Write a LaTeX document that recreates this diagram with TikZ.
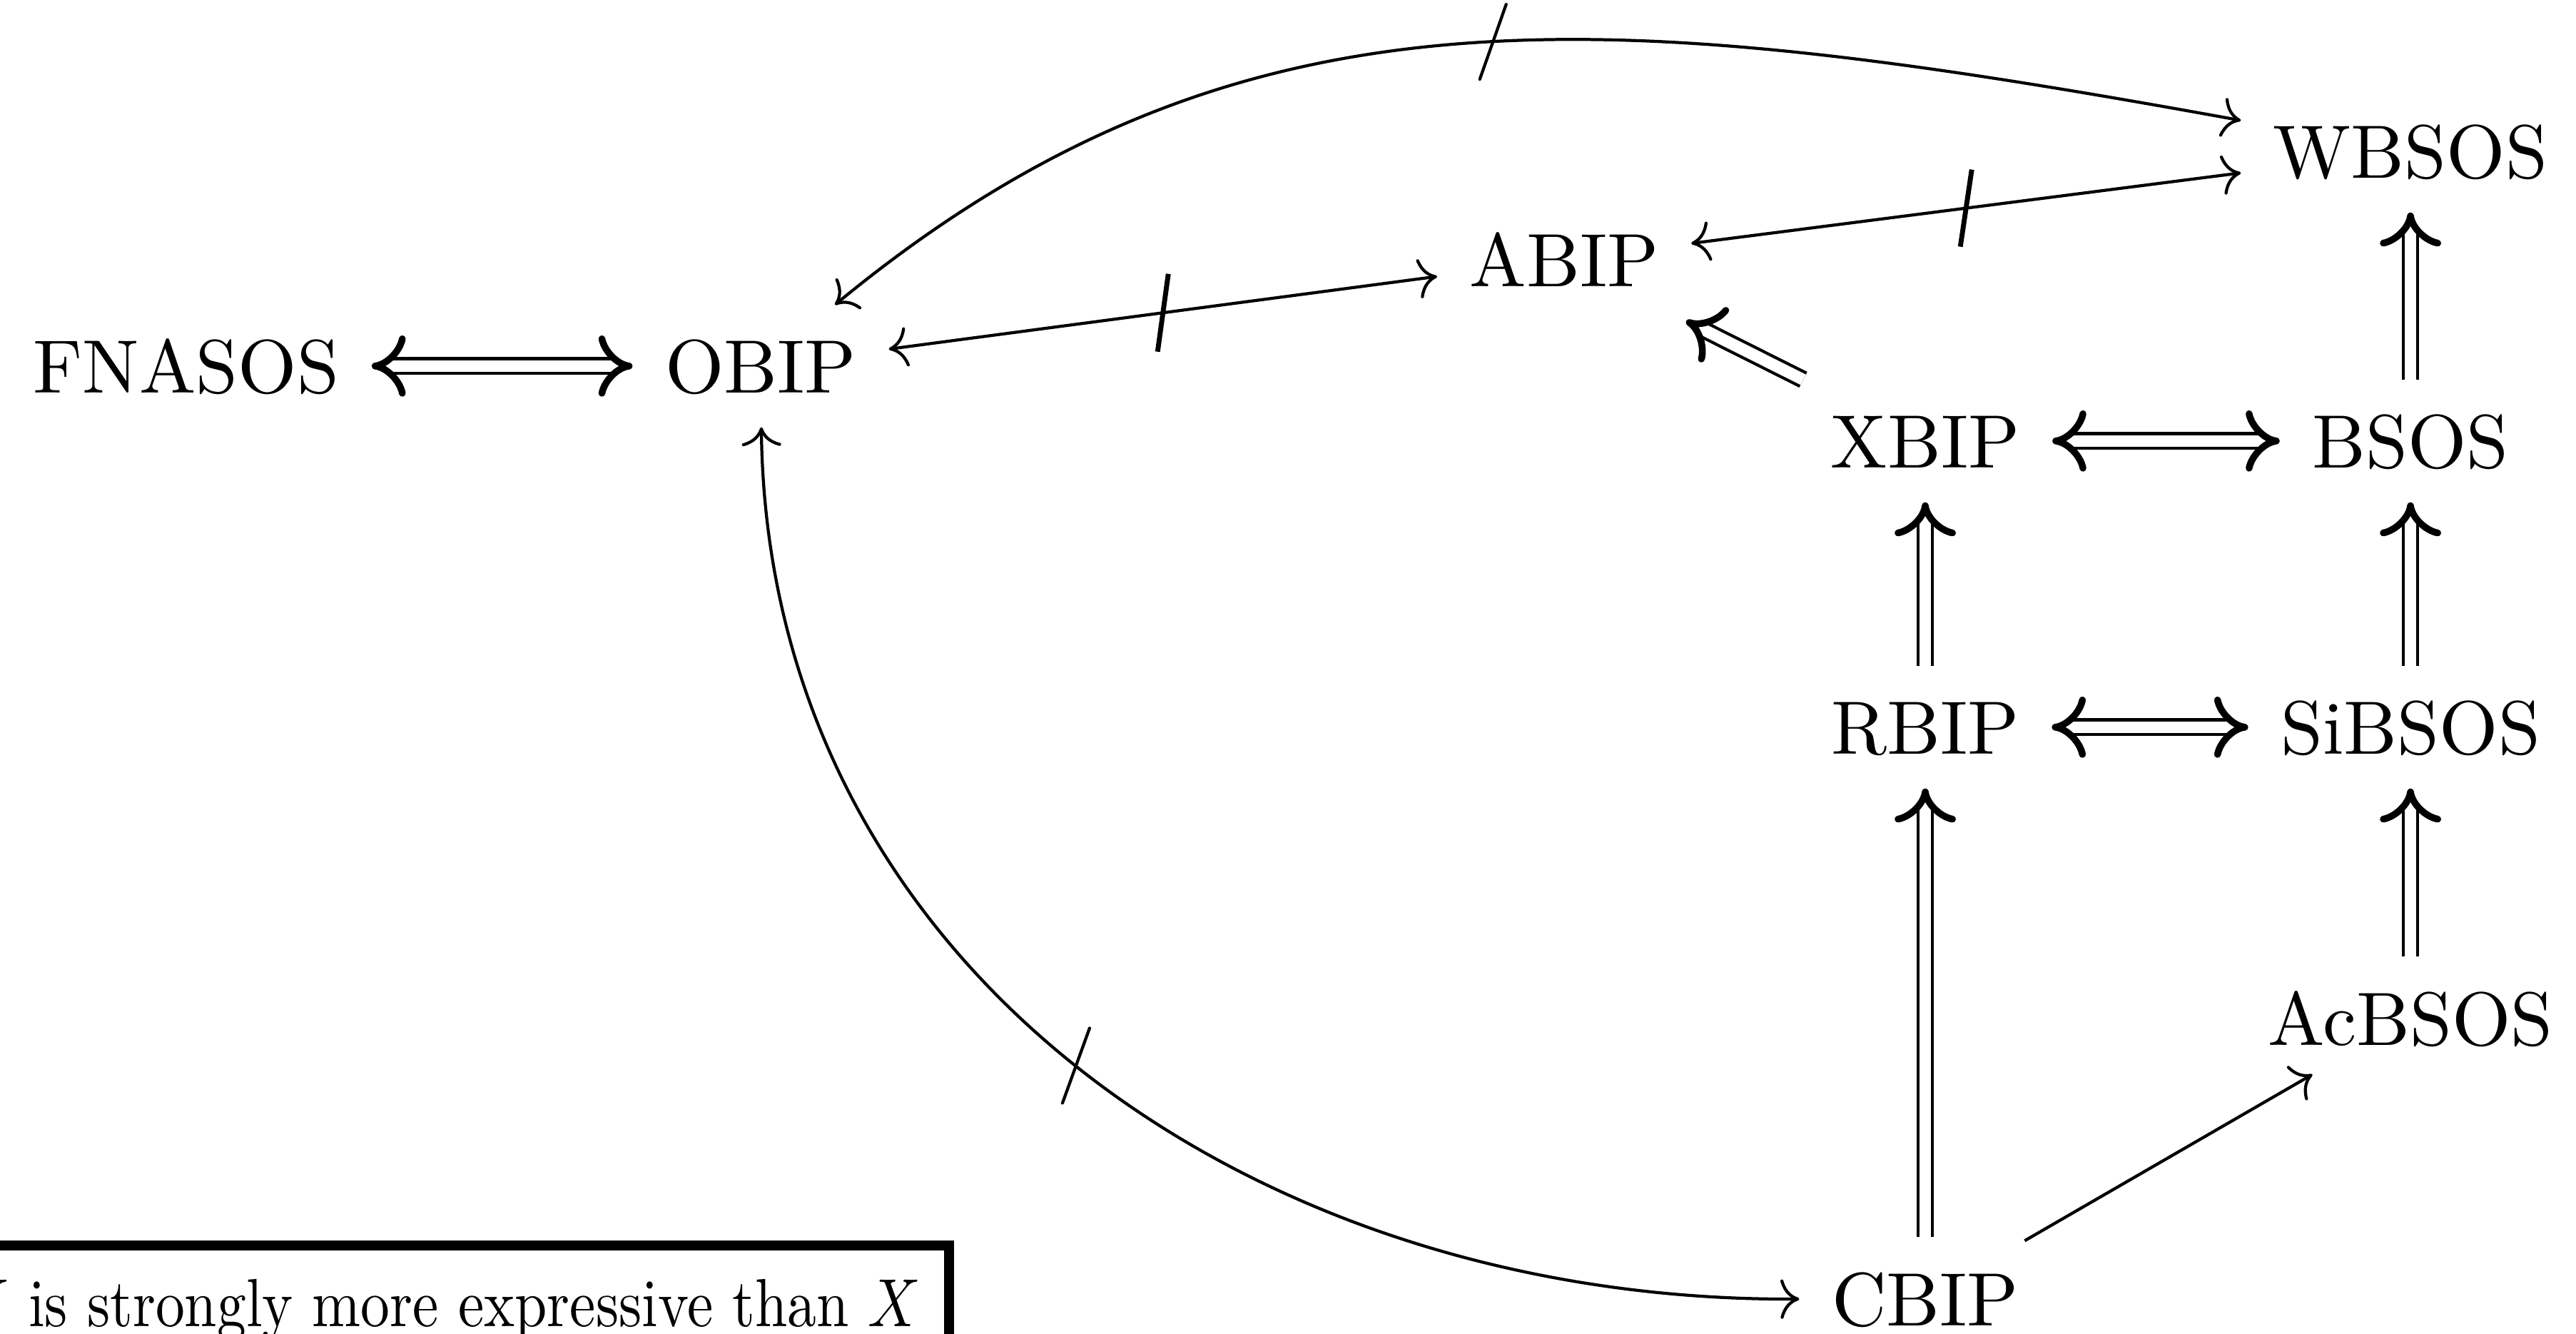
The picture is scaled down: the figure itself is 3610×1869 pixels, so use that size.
\documentclass[tikz,border=0pt]{standalone}
\usepackage{graphicx}
\usetikzlibrary{cd}

% Bold, curved double-line head in the style of \Longrightarrow
\pgfdeclarearrow{
  name = BoldImplies,
  setup code = {
    \pgfarrowssettipend{0.45pt}
    \pgfarrowssetlineend{-1.5pt}
    \pgfarrowssetbackend{-4.1pt}
    \pgfarrowshullpoint{0.45pt}{0pt}
    \pgfarrowsupperhullpoint{-4.1pt}{4.1pt}
  },
  drawing code = {
    \pgfsetdash{}{+0pt}
    \pgfsetroundcap
    \pgfsetroundjoin
    \pgfsetlinewidth{0.9pt}
    \pgfpathmoveto{\pgfqpoint{-3.6pt}{3.6pt}}
    \pgfpathcurveto{\pgfqpoint{-3.3pt}{2.0pt}}{\pgfqpoint{-1.6pt}{0.2pt}}{\pgfqpoint{0pt}{0pt}}
    \pgfpathcurveto{\pgfqpoint{-1.6pt}{-0.2pt}}{\pgfqpoint{-3.3pt}{-2.0pt}}{\pgfqpoint{-3.6pt}{-3.6pt}}
    \pgfusepathqstroke
  },
}

\begin{document}
\begin{tikzpicture}[x=0.09434pt, y=0.09434pt,
  lang/.style={inner xsep=4.1pt, inner ysep=3.5pt, text height=8pt, text depth=0.8pt, anchor=base},
  weaker/.style={-{tikzcd to}, line width=0.4pt},
  twoway/.style={{tikzcd to}-{tikzcd to}, line width=0.4pt},
  stronger/.style={double, double equal sign distance, -{BoldImplies}, line width=0.4pt},
  equiv/.style={double, double equal sign distance, {BoldImplies}-{BoldImplies}, line width=0.4pt},
  thickbar/.style={line width=0.65pt},
  thinbar/.style={line width=0.4pt, line cap=round},
]
\useasboundingbox (0,0) rectangle (3610,-1869);
\clip (0,0) rectangle (3610,-1869);

% languages
\node[lang] (FNASOS) at (261,-551) {FNASOS};
\node[lang] (OBIP)   at (1066,-551) {OBIP};
\node[lang] (ABIP)   at (2192,-402) {ABIP};
\node[lang] (WBSOS)  at (3378,-250) {WBSOS};
\node[lang] (XBIP)   at (2698,-656) {XBIP};
\node[lang] (BSOS)   at (3378,-656) {BSOS};
\node[lang] (RBIP)   at (2698,-1057) {RBIP};
\node[lang] (SiBSOS) at (3378,-1057) {SiBSOS};
\node[lang] (AcBSOS) at (3378,-1464) {AcBSOS};
\node[lang] (CBIP)   at (2698,-1857) {CBIP};

% strong expressiveness
\draw[equiv] (FNASOS) -- (OBIP);
\draw[equiv] (XBIP) -- (BSOS);
\draw[equiv] (RBIP) -- (SiBSOS);
\draw[stronger] (XBIP) -- (ABIP);
\draw[stronger] (BSOS) -- (WBSOS);
\draw[stronger] (RBIP) -- (XBIP);
\draw[stronger] (SiBSOS) -- (BSOS);
\draw[stronger] (AcBSOS) -- (SiBSOS);
\draw[stronger] (CBIP) -- (RBIP);

% weak expressiveness
\draw[weaker, shorten <=-1pt, shorten >=-1.2pt] (CBIP) -- (AcBSOS);

% incomparable pairs
\draw[twoway] (OBIP) -- coordinate[pos=0.5] (m1) (ABIP);
\draw[thickbar] ([shift={(7.5,54.5)}]m1) -- ([shift={(-7.5,-54.5)}]m1);
\draw[twoway] (ABIP) -- coordinate[pos=0.5] (m2) (WBSOS);
\draw[thickbar] ([shift={(8,54)}]m2) -- ([shift={(-8,-54)}]m2);
\draw[twoway] (OBIP) .. controls (1737,40) and (2255,-8) .. coordinate[pos=0.53] (m3) (WBSOS);
\draw[thinbar] ([shift={(18.5,52.5)}]m3) -- ([shift={(-18.5,-52.5)}]m3);
\draw[twoway] (OBIP) .. controls (1075,-1350) and (1750,-1825) .. coordinate[pos=0.5] (m4) (CBIP);
\draw[thinbar] ([shift={(19,52.5)}]m4) -- ([shift={(-19,-52.5)}]m4);

% legend
\draw[line width=1.4pt] (-300,-1745) rectangle (1330,-2100);
\node[anchor=base east, inner sep=0pt] (legend) at (1293,-1858)
  {\scalebox{0.77}[0.9]{$Y$ is strongly more expressive than $X$}};
\end{tikzpicture}
\end{document}
